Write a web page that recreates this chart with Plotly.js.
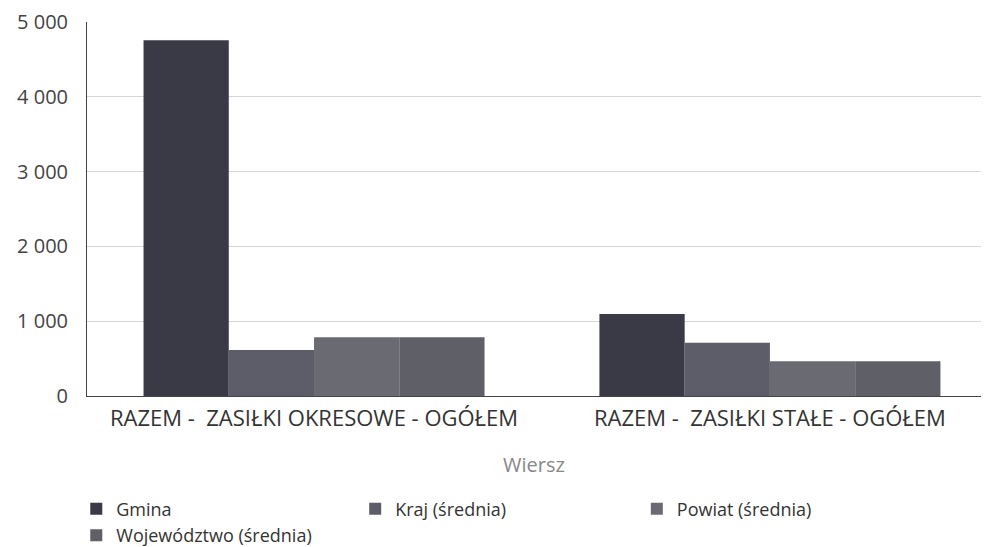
<!DOCTYPE html>
<html><head><meta charset="utf-8">
<script src="https://cdn.plot.ly/plotly-3.0.1.min.js"></script>
<style>html,body{margin:0;padding:0;background:#fff}#chart{width:989px;height:547px}</style>
</head><body><div id="chart"></div>
<script>
const categories = ["RAZEM -  ZASIŁKI OKRESOWE - OGÓŁEM", "RAZEM -  ZASIŁKI STAŁE - OGÓŁEM"];
const gmina = [4755, 1095];
const kraj = [615, 712];
const powiat = [785, 466];
const wojewodztwo = [785, 466];
const seriesNames = ["Gmina", "Kraj (średnia)", "Powiat (średnia)", "Województwo (średnia)"];
const yTicks = [0, 1000, 2000, 3000, 4000, 5000];

const colors = ["#3a3a46", "#5d5d69", "#6a6a72", "#5f5f68"];
const legendsFor = ["legend", "legend2", "legend3", "legend"];
const data = [gmina, kraj, powiat, wojewodztwo].map((vals, i) => ({
  type: "bar", x: categories, y: vals, name: seriesNames[i],
  marker: {color: colors[i], line: {width: 0}},
  legend: legendsFor[i], hoverinfo: "y+name"
}));

const legendFont = {family: "Open Sans, sans-serif", size: 18, color: "#333"};
const legY = 0.103;
const mkLegend = (x) => ({orientation: "v", xref: "paper", yref: "container",
  x: x, xanchor: "left", y: legY, yanchor: "top",
  font: legendFont, tracegroupgap: 0, bgcolor: "rgba(0,0,0,0)"});
const layout = {
  width: 989, height: 547,
  margin: {l: 87, r: 8, t: 22, b: 151},
  paper_bgcolor: "#fff", plot_bgcolor: "#fff",
  separators: ", ",
  font: {family: "Open Sans, sans-serif", color: "#333"},
  barmode: "group", bargap: 0.252, bargroupgap: 0,
  showlegend: true,
  xaxis: {
    type: "category", range: [-0.498, 1.463], automargin: false, tickangle: 0,
    showline: true, linecolor: "#444", linewidth: 1,
    ticks: "", tickfont: {size: 22, color: "#333"}, ticklabelstandoff: 3,
    title: {text: "Wiersz", font: {size: 20, color: "#888"}, standoff: 26}
  },
  yaxis: {
    range: [0, 5000], tickvals: yTicks, tickformat: ",d", automargin: false,
    showline: true, linecolor: "#444", linewidth: 1,
    gridcolor: "#d6d6d6", gridwidth: 1, zeroline: false,
    tickfont: {size: 20, color: "#444"}, ticks: "", ticklabelstandoff: 14
  },
  legend: mkLegend(-0.012),
  legend2: mkLegend(0.300),
  legend3: mkLegend(0.615)
};
Plotly.newPlot("chart", data, layout, {displayModeBar: false, staticPlot: true});
</script></body></html>
